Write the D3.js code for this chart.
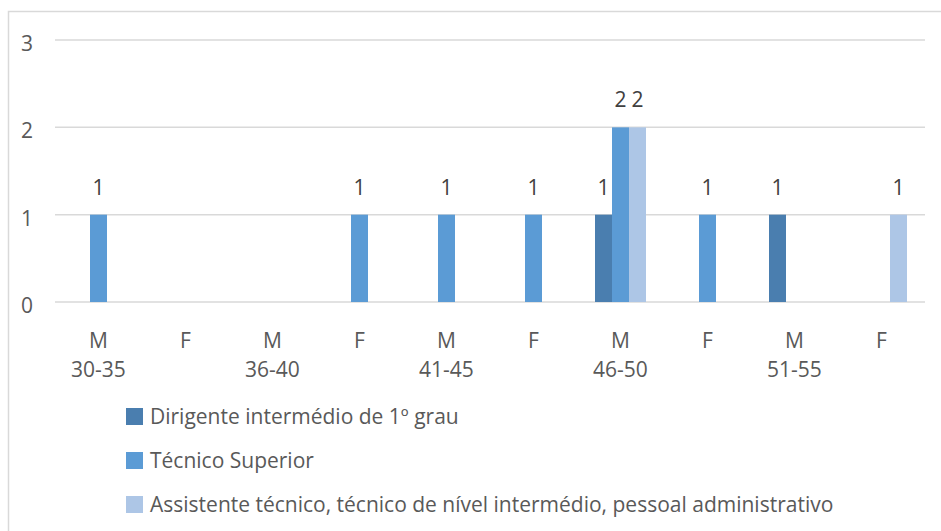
<!DOCTYPE html>
<html><head><meta charset="utf-8">
<script src="https://cdn.jsdelivr.net/npm/d3@7/dist/d3.min.js"></script>
<style>body{margin:0;background:#fff;}svg{display:block;font-family:"Open Sans",sans-serif;}</style>
</head><body><svg id="c" width="941" height="531"></svg>
<script>
const sexes = ["M","F","M","F","M","F","M","F","M","F"];
const ageGroups = ["30-35","","36-40","","41-45","","46-50","","51-55",""];
const seriesNames = ["Dirigente intermédio de 1º grau","Técnico Superior","Assistente técnico, técnico de nível intermédio, pessoal administrativo"];
const dirigente = [0,0,0,0,0,0,1,0,1,0];
const tecnicoSuperior = [1,0,0,1,1,1,2,1,0,0];
const assistente = [0,0,0,0,0,0,2,0,0,1];
const colors = ["#4a7eaf","#5b9bd5","#adc6e6"];
const yTicks = [0,1,2,3];

const svg = d3.select("#c");
const FS = 21;
// chart border
svg.append("path").attr("d","M8.5,531 V11.5 H941").attr("fill","none").attr("stroke","#d9d9d9").attr("stroke-width",1.5);

const cats = d3.range(sexes.length);
const x = d3.scaleBand().domain(cats).range([55,925]);
const inner = d3.scaleBand().domain([0,1,2]).range([0,51]);
const y = d3.scaleLinear().domain([0,3]).range([302,40]);

// gridlines
svg.append("g").selectAll("line").data(yTicks).join("line")
  .attr("x1",55).attr("x2",925).attr("y1",d=>y(d)).attr("y2",d=>y(d))
  .attr("stroke","#d9d9d9").attr("stroke-width",1.5);
// y labels
svg.append("g").selectAll("text").data(yTicks).join("text")
  .attr("x",33).attr("y",d=>y(d)+11).attr("text-anchor","end")
  .attr("font-size",FS).attr("fill","#595959").text(d=>d);

const data = [dirigente,tecnicoSuperior,assistente];
data.forEach((vals,s)=>{
  const g = svg.append("g");
  g.selectAll("rect").data(vals.map((v,i)=>({v,i}))).join("rect")
    .attr("x",d=>x(d.i)+x.bandwidth()/2-25.5+inner(s))
    .attr("width",inner.bandwidth())
    .attr("y",d=>y(d.v)).attr("height",d=>y(0)-y(d.v))
    .attr("fill",colors[s]);
  g.selectAll("text").data(vals.map((v,i)=>({v,i})).filter(d=>d.v>0)).join("text")
    .attr("x",d=>x(d.i)+x.bandwidth()/2-25.5+inner(s)+inner.bandwidth()/2)
    .attr("y",d=>y(d.v)-20).attr("text-anchor","middle")
    .attr("font-size",FS).attr("fill","#404040").text(d=>d.v);
});

// x labels
const xl = svg.append("g");
xl.selectAll("text.s").data(cats).join("text").attr("class","s")
  .attr("x",d=>x(d)+x.bandwidth()/2).attr("y",348).attr("text-anchor","middle")
  .attr("font-size",FS).attr("fill","#595959").text(d=>sexes[d]);
xl.selectAll("text.a").data(cats).join("text").attr("class","a")
  .attr("x",d=>x(d)+x.bandwidth()/2).attr("y",377).attr("text-anchor","middle")
  .attr("font-size",FS).attr("fill","#595959").text(d=>ageGroups[d]);

// legend
const lg = svg.append("g");
seriesNames.forEach((n,i)=>{
  const yy = 424 + i*44;
  lg.append("rect").attr("x",126).attr("y",yy-16).attr("width",17).attr("height",17).attr("fill",colors[i]);
  lg.append("text").attr("x",150).attr("y",yy).attr("font-size",FS).attr("fill","#595959").text(n);
});
</script></body></html>
